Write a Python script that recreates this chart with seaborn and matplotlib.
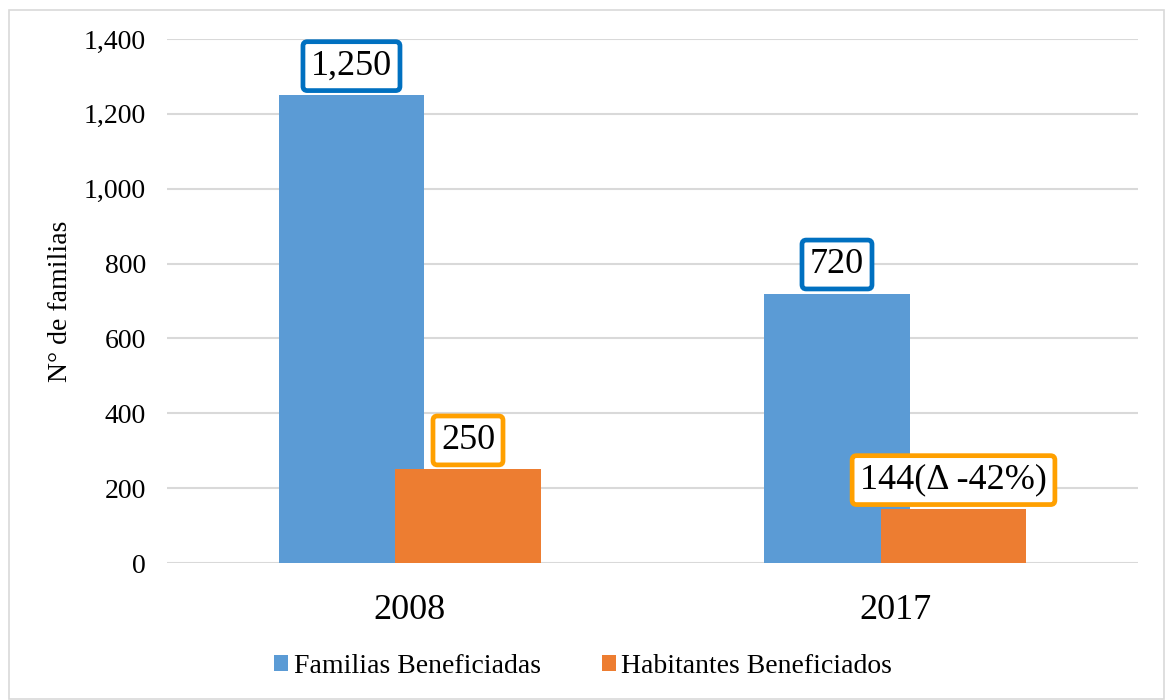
import pandas as pd
import matplotlib.pyplot as plt
import seaborn as sns
from matplotlib.patches import Rectangle

#-- Data:

years = ['2008', '2017']
familias = [1250, 720]
habitantes = [250, 144]
familias_labels = ['1,250', '720']
habitantes_labels = ['250', '144(\u0394 -42%)']
series_names = ['Familias Beneficiadas', 'Habitantes Beneficiados']

df = pd.DataFrame({
    'year': years * 2,
    'value': familias + habitantes,
    'serie': [series_names[0]] * 2 + [series_names[1]] * 2,
})

#-- Style:

sns.set_style('white', {'text.color': 'black', 'axes.labelcolor': 'black',
                        'xtick.color': 'black', 'ytick.color': 'black'})
plt.rcParams['font.family'] = ['Liberation Serif', 'DejaVu Serif']

colors = ['#5B9BD5', '#ED7D31']
box_colors = ['#0070C0', '#FFA000']

fig = plt.figure(figsize=(11.66, 7), dpi=100)
ax = fig.add_axes([0.1432, 0.1957, 0.8328, 0.7486])

sns.barplot(data=df, x='year', y='value', hue='serie', palette=colors,
            width=0.48, gap=-0.25, saturation=1, linewidth=0, ax=ax, zorder=2)

ax.set_ylim(0, 1400)
ax.set_xlim(-0.5, 1.5)
ax.set_yticks(range(0, 1401, 200))
ax.yaxis.set_major_formatter(plt.FuncFormatter(lambda v, p: f'{v:,.0f}'))
ax.grid(axis='y', color='#D9D9D9', linewidth=1.5, zorder=0)
ax.set_axisbelow(True)
sns.despine(ax=ax, left=True, top=True, right=True, bottom=True)
ax.tick_params(axis='y', labelsize=20, length=0, pad=15)
ax.tick_params(axis='x', labelsize=26, length=0, pad=22)
ax.set_xlabel('')
ax.set_ylabel('N\u00b0 de familias', fontsize=20, labelpad=8)

#-- Value labels:

for cont, labels, bc in zip(ax.containers, [familias_labels, habitantes_labels], box_colors):
    for p, lab in zip(cont.patches, labels):
        ax.annotate(lab, (p.get_x() + p.get_width() / 2., p.get_height()),
                    xytext=(0, 9), textcoords='offset points',
                    ha='center', va='bottom', fontsize=26, zorder=5,
                    bbox=dict(boxstyle='round,pad=0.22,rounding_size=0.12', fc='white',
                              ec=bc, lw=3.4))

#-- Legend:

ax.legend(loc='center', bbox_to_anchor=(0.5, 0.048), bbox_transform=fig.transFigure,
          ncol=2, frameon=False, fontsize=20, handlelength=0.5, handleheight=0.5,
          handletextpad=0.2, columnspacing=2.2)

fig.patches.append(Rectangle((9 / 1166, 1 / 700), 1155 / 1166, 689 / 700,
                             transform=fig.transFigure, fill=False,
                             ec='#D9D9D9', lw=1.2))

plt.savefig('out.png', dpi=100)
